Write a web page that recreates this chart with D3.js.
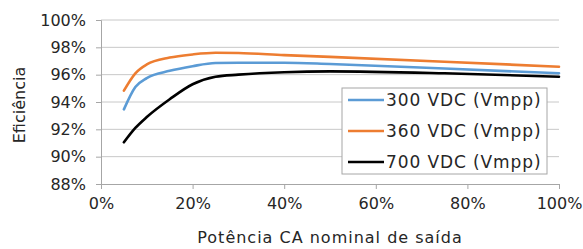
<!DOCTYPE html>
<html>
<head>
  <meta charset="UTF-8">
  <script src="https://cdn.jsdelivr.net/npm/d3@7"></script>
  <style>
    body { margin: 0; background: #fff; }
    text { font-family: "DejaVu Sans", sans-serif; fill: #262626; }
  </style>
</head>
<body>
<div id="chart"></div>
<script>
  // load (% of nominal) and efficiency (%)
  var loads = [5, 7.5, 10, 15, 20, 25, 30, 40, 50, 75, 100];
  var eff300 = [93.46, 95.1, 95.75, 96.28, 96.62, 96.85, 96.87, 96.87, 96.78, 96.45, 96.1];
  var eff360 = [94.83, 96.1, 96.75, 97.25, 97.48, 97.6, 97.58, 97.43, 97.3, 96.95, 96.58];
  var eff700 = [91.05, 92.1, 92.9, 94.2, 95.3, 95.85, 96.0, 96.18, 96.24, 96.1, 95.85];
  var seriesNames = ['300 VDC (Vmpp)', '360 VDC (Vmpp)', '700 VDC (Vmpp)'];
  var xTicks = [0, 20, 40, 60, 80, 100];
  var yTicks = [88, 90, 92, 94, 96, 98, 100];

  var w = 583, h = 249;
  var m = {left: 101, right: 24, top: 20, bottom: 65};

  var svg = d3.select('#chart').append('svg')
      .attr('width', w).attr('height', h);

  var x = d3.scaleLinear().domain([0, 100]).range([m.left, w - m.right]);
  var y = d3.scaleLinear().domain([88, 100]).range([h - m.bottom, m.top]);

  // gridlines
  svg.append('g').selectAll('line')
      .data(yTicks.slice(1))
      .enter().append('line')
      .attr('x1', x(0)).attr('x2', x(100))
      .attr('y1', function(d){ return y(d); })
      .attr('y2', function(d){ return y(d); })
      .attr('stroke', '#c8c8c8').attr('stroke-width', 1);

  var xAxis = svg.append('g')
      .attr('transform', 'translate(0,' + y(88) + ')')
      .call(d3.axisBottom(x).tickValues(xTicks).tickSize(5).tickPadding(9)
        .tickFormat(function(d){ return d + '%'; }));
  xAxis.select('.domain').attr('stroke', '#a6a6a6');
  xAxis.selectAll('.tick line').attr('stroke', '#a6a6a6');
  xAxis.selectAll('text').style('font-size', '16px').attr('fill', '#262626');

  var yAxis = svg.append('g')
      .attr('transform', 'translate(' + x(0) + ',0)')
      .call(d3.axisLeft(y).tickValues(yTicks).tickSize(5).tickPadding(10)
        .tickFormat(function(d){ return d + '%'; }));
  yAxis.select('.domain').attr('stroke', '#a6a6a6');
  yAxis.selectAll('.tick line').attr('stroke', '#a6a6a6');
  yAxis.selectAll('text').style('font-size', '16px').attr('fill', '#262626');

  var series = [
    {name: seriesNames[0], values: eff300, color: '#5b9bd5'},
    {name: seriesNames[1], values: eff360, color: '#ed7d31'},
    {name: seriesNames[2], values: eff700, color: '#000000'}
  ];

  var line = d3.line()
      .x(function(d, i){ return x(loads[i]); })
      .y(function(d){ return y(d); })
      .curve(d3.curveMonotoneX);

  svg.selectAll('path.series')
      .data(series)
      .enter().append('path')
      .attr('class', 'series')
      .attr('d', function(d){ return line(d.values); })
      .attr('fill', 'none')
      .attr('stroke', function(d){ return d.color; })
      .attr('stroke-width', 2.6)
      .attr('stroke-linecap', 'round');

  // legend
  var lg = svg.append('g').attr('transform', 'translate(342,88)');
  lg.append('rect')
      .attr('width', 205).attr('height', 86)
      .attr('fill', '#fff').attr('stroke', '#a6a6a6');
  var items = lg.selectAll('g.item')
      .data(series)
      .enter().append('g')
      .attr('transform', function(d, i){ return 'translate(0,' + (12 + i * 31) + ')'; });
  items.append('line')
      .attr('x1', 6).attr('x2', 42)
      .attr('stroke', function(d){ return d.color; })
      .attr('stroke-width', 2.6);
  items.append('text')
      .attr('x', 44).attr('dy', '0.35em')
      .style('font-size', '17px')
      .style('letter-spacing', '0.9px')
      .text(function(d){ return d.name; });

  svg.append('text')
      .attr('transform', 'translate(25,105) rotate(-90)')
      .attr('text-anchor', 'middle')
      .style('font-size', '16px')
      .text('Eficiência');

  svg.append('text')
      .attr('x', (x(0) + x(100)) / 2).attr('y', 243)
      .attr('text-anchor', 'middle')
      .style('font-size', '16px')
      .style('letter-spacing', '1px')
      .text('Potência CA nominal de saída');
</script>
</body>
</html>
